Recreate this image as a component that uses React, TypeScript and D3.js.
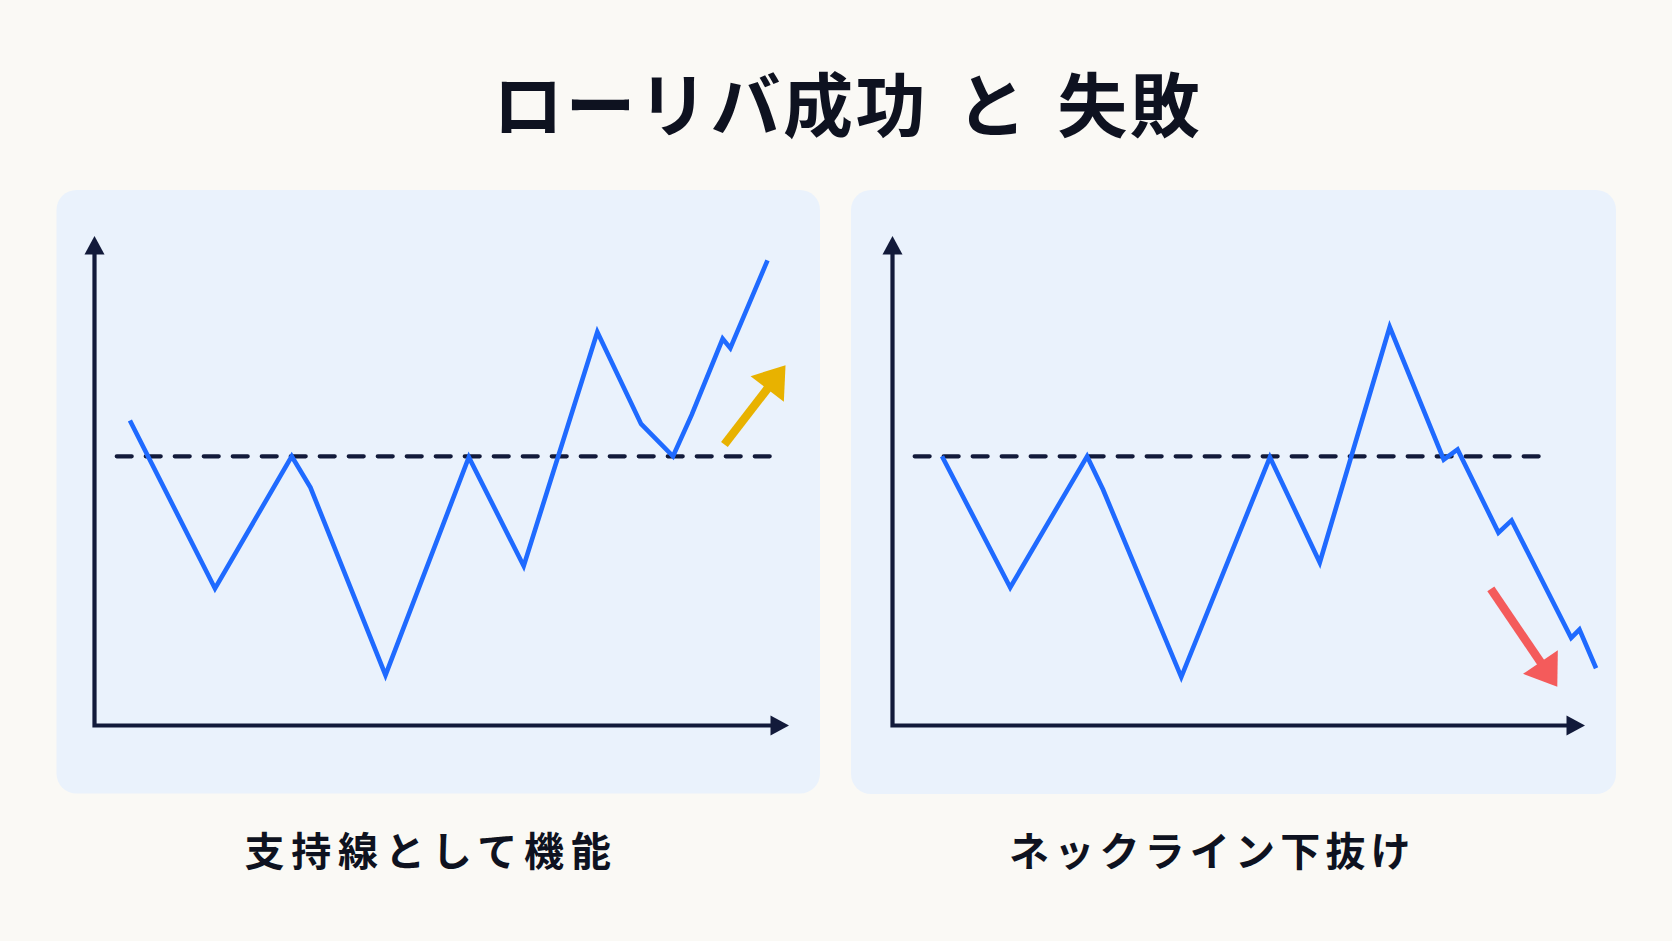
import React from 'react';
import * as d3 from 'd3';

// ---- data ----
const TITLE = 'ローリバ成功 と 失敗';
const PANEL_LABELS = ['支持線として機能', 'ネックライン下抜け'];

const successX = [5.1, 17.35, 28.4, 31.1, 41.9, 53.9, 61.8, 72.4, 78.7, 83.3, 86.0, 90.45, 91.55, 96.9];
const successY = [62.3, 28.0, 55, 48.6, 10.3, 54.8, 32.6, 80.4, 61.6, 55, 63.5, 79.0, 77.1, 95.0];
const failureX = [7.15, 17.0, 28.1, 30.4, 41.7, 54.5, 61.7, 71.8, 79.6, 81.6, 87.5, 89.4, 98.0, 99.2, 101.6];
const failureY = [55, 28.2, 55, 48.2, 9.9, 54.8, 33.3, 81.4, 54.3, 56.4, 39.4, 41.9, 17.9, 19.6, 11.7];
const necklineLevel = 55;
const necklineStart = [3.2, 3.2];
const necklineEnd = [97.6, 93.7];
const arrowTailX = [90.7, 86.4];
const arrowTailY = [57.4, 27.9];
const arrowTipX = [99.5, 96.0];
const arrowTipY = [73.6, 7.9];

// ---- style / layout ----
const W = 1672;
const H = 941;
const BG = '#FAF9F5';
const PANEL_FILL = '#EAF2FC';
const AXIS = '#121A3A';
const LINE = '#1F6AFF';
const TEXT = '#0E1220';
const ARROW_COLORS = ['#E8B200', '#F45B5B'];

const panels = [
  { left: 56.5, top: 190, right: 820, bottom: 793.5, ox: 94.5, xEnd: 789, labelX: 244.5, labelLs: 6.8 },
  { left: 851, top: 190, right: 1616, bottom: 794, ox: 892.5, xEnd: 1585, labelX: 1009, labelLs: 5.2 },
];
const AXIS_TOP = 236;
const AXIS_BOTTOM = 725.5;
const series = [
  { xs: successX, ys: successY },
  { xs: failureX, ys: failureY },
];

function Arrow({ x1, y1, x2, y2, color }: { x1: number; y1: number; x2: number; y2: number; color: string }) {
  const dx = x2 - x1;
  const dy = y2 - y1;
  const len = Math.hypot(dx, dy);
  const ux = dx / len;
  const uy = dy / len;
  const headLen = 30;
  const headW = 42;
  const bx = x2 - ux * headLen;
  const by = y2 - uy * headLen;
  const px = -uy;
  const py = ux;
  const pts = [
    [x2, y2],
    [bx + px * headW / 2, by + py * headW / 2],
    [bx - px * headW / 2, by - py * headW / 2],
  ];
  return (
    <g>
      <line x1={x1} y1={y1} x2={bx + ux * 2} y2={by + uy * 2} stroke={color} strokeWidth={8.5} />
      <polygon points={pts.map((p) => p.join(',')).join(' ')} fill={color} />
    </g>
  );
}

function Panel({ idx }: { idx: number }) {
  const p = panels[idx];
  const s = series[idx];
  const x = d3.scaleLinear().domain([0, 100]).range([p.ox, p.xEnd]);
  const y = d3.scaleLinear().domain([0, 100]).range([AXIS_BOTTOM, AXIS_TOP]);
  const pts: [number, number][] = s.xs.map((v, i) => [v, s.ys[i]]);
  const lineGen = d3
    .line<[number, number]>()
    .x((d) => x(d[0]))
    .y((d) => y(d[1]));
  const arrowLen = 18.5;
  const arrowHalf = 10;
  return (
    <g>
      <rect x={p.left} y={p.top} width={p.right - p.left} height={p.bottom - p.top} rx={20} ry={20} fill={PANEL_FILL} />
      {/* axes */}
      <path
        d={`M${p.ox},${AXIS_TOP + arrowLen - 1} L${p.ox},${AXIS_BOTTOM} L${p.xEnd - arrowLen + 1},${AXIS_BOTTOM}`}
        fill="none"
        stroke={AXIS}
        strokeWidth={4.2}
        strokeLinejoin="miter"
      />
      <polygon
        points={`${p.ox},${AXIS_TOP} ${p.ox - arrowHalf},${AXIS_TOP + arrowLen} ${p.ox + arrowHalf},${AXIS_TOP + arrowLen}`}
        fill={AXIS}
      />
      <polygon
        points={`${p.xEnd},${AXIS_BOTTOM} ${p.xEnd - arrowLen},${AXIS_BOTTOM - arrowHalf} ${p.xEnd - arrowLen},${AXIS_BOTTOM + arrowHalf}`}
        fill={AXIS}
      />
      {/* neckline */}
      <line
        x1={x(necklineStart[idx])}
        x2={x(necklineEnd[idx])}
        y1={y(necklineLevel)}
        y2={y(necklineLevel)}
        stroke={AXIS}
        strokeWidth={4.2}
        strokeDasharray="15 14"
        strokeLinecap="round"
      />
      {/* price line */}
      <path d={lineGen(pts) || ''} fill="none" stroke={LINE} strokeWidth={4.6} strokeLinejoin="miter" strokeMiterlimit={6} />
      <Arrow
        x1={x(arrowTailX[idx])}
        y1={y(arrowTailY[idx])}
        x2={x(arrowTipX[idx])}
        y2={y(arrowTipY[idx])}
        color={ARROW_COLORS[idx]}
      />
      <text
        x={p.labelX}
        y={849}
        dominantBaseline="central"
        fontFamily="'Noto Sans CJK JP', 'Noto Sans', sans-serif"
        fontWeight={700}
        fontSize={40}
        letterSpacing={p.labelLs}
        fill={TEXT}
      >
        {PANEL_LABELS[idx]}
      </text>
    </g>
  );
}

export default function App() {
  return (
    <svg
      width={W}
      height={H}
      viewBox={`0 0 ${W} ${H}`}
      style={{ position: 'absolute', left: 0, top: 0, display: 'block' }}
    >
      <rect x={0} y={0} width={W} height={H} fill={BG} />
      <text
        x={493}
        y={101.5}
        dominantBaseline="central"
        fontFamily="'Noto Sans CJK JP', 'Noto Sans', sans-serif"
        fontWeight={700}
        fontSize={70}
        letterSpacing={2.5}
        wordSpacing={10}
        fill={TEXT}
        style={{ whiteSpace: 'pre' }}
      >
        {TITLE}
      </text>
      <Panel idx={0} />
      <Panel idx={1} />
    </svg>
  );
}
